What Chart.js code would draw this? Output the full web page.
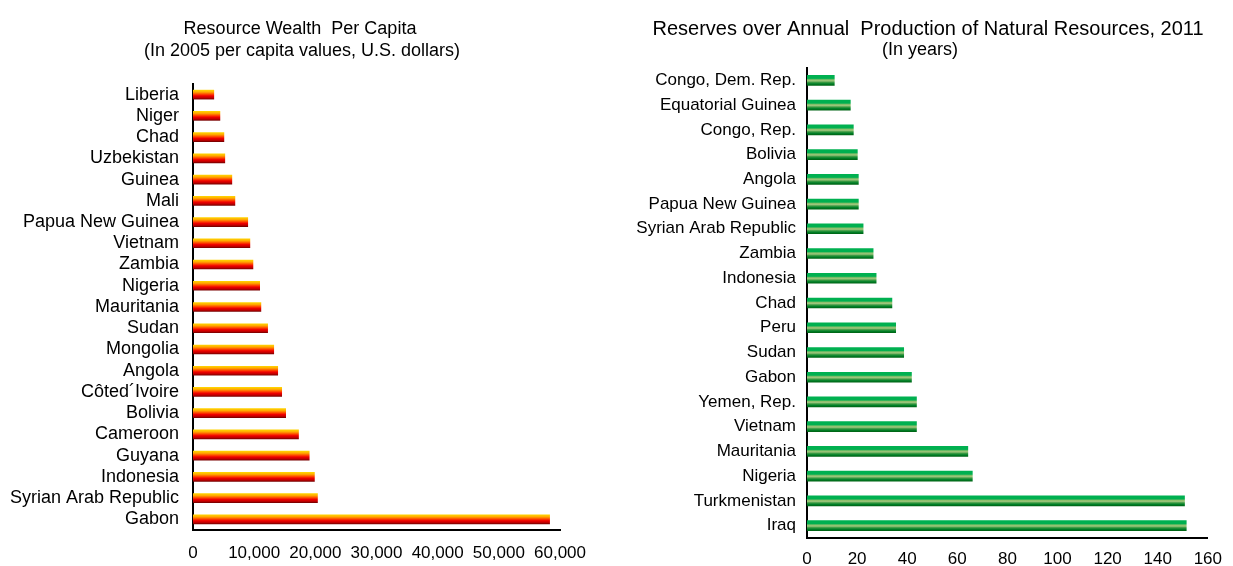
<!DOCTYPE html>
<html>
<head>
<meta charset="utf-8">
<script src="https://cdn.jsdelivr.net/npm/chart.js@4/dist/chart.umd.min.js"></script>
<style>
    html, body { margin: 0; padding: 0; background: #fff; }
    #wrap { position: relative; width: 1233px; height: 566px; overflow: hidden; }
    canvas { position: absolute; top: 0; }
    #chart-wealth { left: 0; }
    #chart-reserves { left: 600px; }
</style>
</head>
<body>
<div id="wrap">
    <canvas id="chart-wealth" width="600" height="566"></canvas>
    <canvas id="chart-reserves" width="633" height="566"></canvas>
</div>
<script>
// Left panel: resource wealth per capita (2005 USD)
const wealthLabels = ['Liberia', 'Niger', 'Chad', 'Uzbekistan', 'Guinea', 'Mali', 'Papua New Guinea', 'Vietnam', 'Zambia', 'Nigeria',
    'Mauritania', 'Sudan', 'Mongolia', 'Angola', 'Côted´Ivoire', 'Bolivia', 'Cameroon', 'Guyana', 'Indonesia', 'Syrian Arab Republic', 'Gabon'];
const wealthValues = [3400, 4400, 5050, 5200, 6350, 6850, 8950, 9300, 9800, 10900,
    11100, 12200, 13200, 13850, 14500, 15150, 17250, 19000, 19850, 20350, 58300];
const wealthTicks = [0, 10000, 20000, 30000, 40000, 50000, 60000];

// Right panel: reserves over annual production, 2011 (years)
const reserveLabels = ['Congo, Dem. Rep.', 'Equatorial Guinea', 'Congo, Rep.', 'Bolivia', 'Angola', 'Papua New Guinea', 'Syrian Arab Republic',
    'Zambia', 'Indonesia', 'Chad', 'Peru', 'Sudan', 'Gabon', 'Yemen, Rep.', 'Vietnam', 'Mauritania', 'Nigeria', 'Turkmenistan', 'Iraq'];
const reserveValues = [10.9, 17.3, 18.5, 20.1, 20.5, 20.5, 22.4, 26.4, 27.6, 33.9, 35.4, 38.6, 41.7, 43.7, 43.7, 64.2, 66.0, 150.7, 151.4];
const reserveTicks = [0, 20, 40, 60, 80, 100, 120, 140, 160];

const FONT = '"Liberation Sans", Arial, sans-serif';
Chart.defaults.font.family = FONT;
Chart.defaults.color = '#000';

const orangeStops = [[0, '#ffd200'], [0.22, '#ffa800'], [0.45, '#ff4a00'], [0.65, '#f00000'], [0.85, '#c00000'], [1, '#7a0000']];
const greenStops = [[0, '#00b050'], [0.3, '#00b050'], [0.45, '#8fc06c'], [0.55, '#9cc57c'], [0.7, '#3a9a42'], [0.85, '#008028'], [1, '#006414']];

// vertical gradient per bar, built from the bar's own category pixel
function barGradient(context, stops, thickness) {
    const chart = context.chart;
    if (!chart.chartArea || !chart.scales.y) return stops[0][1];
    const yc = chart.scales.y.getPixelForValue(context.dataIndex);
    const g = chart.ctx.createLinearGradient(0, yc - thickness / 2, 0, yc + thickness / 2);
    stops.forEach(s => g.addColorStop(s[0], s[1]));
    return g;
}

const titlePlugin = {
    id: 'twoLineTitle',
    afterDraw(chart, args, opts) {
        const c = chart.ctx;
        c.save();
        c.fillStyle = '#000';
        c.textAlign = 'center';
        c.textBaseline = 'middle';
        opts.lines.forEach((t, i) => {
            c.font = opts.size[i] + 'px ' + FONT;
            c.fillText(t, opts.x[i], opts.y[i]);
        });
        c.restore();
    }
};

function makeChart(id, labels, values, ticks, stops, thick, cfg) {
    return new Chart(document.getElementById(id), {
        type: 'bar',
        data: {
            labels: labels,
            datasets: [{
                data: values,
                backgroundColor: ctx => barGradient(ctx, stops, thick),
                borderWidth: 0,
                barThickness: thick
            }]
        },
        plugins: [titlePlugin],
        options: {
            indexAxis: 'y',
            responsive: false,
            animation: false,
            devicePixelRatio: 1,
            layout: { padding: { left: 0, right: cfg.padRight, top: cfg.top, bottom: 0 } },
            plugins: {
                legend: { display: false },
                tooltip: { enabled: false },
                twoLineTitle: cfg.title
            },
            scales: {
                x: {
                    min: 0,
                    max: ticks[ticks.length - 1],
                    afterBuildTicks: s => { s.ticks = ticks.map(v => ({ value: v })); },
                    afterFit: s => { s.height = cfg.xHeight; },
                    grid: { display: false, drawTicks: false },
                    border: { display: true, color: '#000', width: 2 },
                    ticks: {
                        padding: cfg.xPad,
                        maxRotation: 0,
                        autoSkip: false,
                        font: { size: 17 },
                        color: '#000',
                        callback: v => v.toLocaleString('en-US')
                    }
                },
                y: {
                    afterFit: s => { s.width = cfg.yWidth; },
                    grid: { display: false, drawTicks: false },
                    border: { display: true, color: '#000', width: 2 },
                    ticks: { padding: cfg.yPad, autoSkip: false, font: { size: cfg.ySize }, color: '#000' }
                }
            }
        }
    });
}

makeChart('chart-wealth', wealthLabels, wealthValues, wealthTicks, orangeStops, 9, {
    top: 84, padRight: 40, xHeight: 36, xPad: 13, yWidth: 193, yPad: 14, ySize: 18,
    title: { lines: ['Resource Wealth  Per Capita', '(In 2005 per capita values, U.S. dollars)'], x: [300, 302], y: [29, 51], size: [18, 18] }
});

makeChart('chart-reserves', reserveLabels, reserveValues, reserveTicks, greenStops, 10, {
    top: 68, padRight: 19, xHeight: 28, xPad: 11, yWidth: 207, yPad: 11, ySize: 17,
    title: { lines: ['Reserves over Annual  Production of Natural Resources, 2011', '(In years)'], x: [328, 320], y: [29, 50], size: [20, 18] }
});
</script>
</body>
</html>
